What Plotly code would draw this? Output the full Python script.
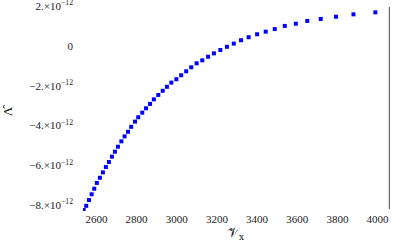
import plotly.graph_objects as go

# sampled points (V_x, Lambda-hat in units of 1e-12)
vx = [2536, 2549, 2563, 2576, 2589, 2602, 2617, 2632, 2647, 2662,
      2677, 2692, 2707, 2724, 2740, 2757, 2773, 2792, 2808, 2828,
      2847, 2867, 2886, 2908, 2930, 2951, 2973, 2998, 3022, 3047,
      3072, 3099, 3127, 3156, 3185, 3217, 3250, 3284, 3320, 3358,
      3400, 3443, 3488, 3538, 3593, 3650, 3717, 3793, 3880, 3989]
lam = [-8.24, -8.03, -7.74, -7.45, -7.17, -6.88, -6.62, -6.35, -6.08, -5.83,
       -5.56, -5.31, -5.06, -4.79, -4.54, -4.31, -4.06, -3.80, -3.58, -3.35,
       -3.13, -2.91, -2.68, -2.46, -2.25, -2.05, -1.84, -1.67, -1.47, -1.27,
       -1.07, -0.87, -0.72, -0.54, -0.37, -0.20, -0.04, 0.12, 0.29, 0.44,
       0.59, 0.72, 0.85, 1.01, 1.12, 1.26, 1.36, 1.47, 1.59, 1.69]

x_ticks = [2600, 2800, 3000, 3200, 3400, 3600, 3800, 4000]
y_ticks = [2e-12, 0, -2e-12, -4e-12, -6e-12, -8e-12]
y_tick_text = ['2.×10<sup>−12</sup>', '0', '−2.×10<sup>−12</sup>',
               '−4.×10<sup>−12</sup>', '−6.×10<sup>−12</sup>', '−8.×10<sup>−12</sup>']

fig = go.Figure()
fig.add_trace(go.Scatter(x=vx, y=[v * 1e-12 for v in lam], mode='markers',
                         marker=dict(symbol='square', size=4, color='#0000ff',
                                     line=dict(width=0)),
                         showlegend=False))

serif = 'Liberation Serif'
tickfont = dict(family=serif, size=11, color='#222')
fig.update_layout(width=393, height=241,
                  margin=dict(l=83, r=3, t=5, b=30, autoexpand=False),
                  plot_bgcolor='white', paper_bgcolor='white',
                  font=dict(family=serif, size=11, color='#222'))
fig.update_xaxes(range=[2533, 4062], tickvals=x_ticks, showgrid=False, zeroline=False,
                 showline=False, ticks='', ticklen=0, ticklabelstandoff=0,
                 ticklabeloverflow='allow', tickfont=tickfont, automargin=False)
fig.update_yaxes(range=[-8.29e-12, 2.06e-12], tickvals=y_ticks, ticktext=y_tick_text,
                 showgrid=False, zeroline=False, showline=False, ticks='', ticklen=0,
                 ticklabelstandoff=9, ticklabeloverflow='allow', tickfont=tickfont,
                 automargin=False)

# axis labels placed like the reference
fig.add_annotation(text='𝒱<sub>x</sub>', xref='paper', yref='paper', x=0.5, y=-0.107,
                   xanchor='center', yanchor='middle', showarrow=False,
                   font=dict(family='DejaVu Serif', size=13, color='#222'))
fig.add_annotation(text='Λ̂', xref='paper', yref='paper', x=-0.247, y=0.49,
                   xanchor='center', yanchor='middle', textangle=-90, showarrow=False,
                   font=dict(family=serif, size=13, color='#222'))
fig.add_shape(type='line', xref='paper', yref='paper', x0=0.998, x1=0.998, y0=0.01, y1=0.99,
              line=dict(color='#666', width=1.2), layer='above')

# the page body has a default 8px margin; remove it so the figure fills the window
fig.write_html("out.html", config={'displayModeBar': False},
               post_script="document.body.style.margin='0px';")
